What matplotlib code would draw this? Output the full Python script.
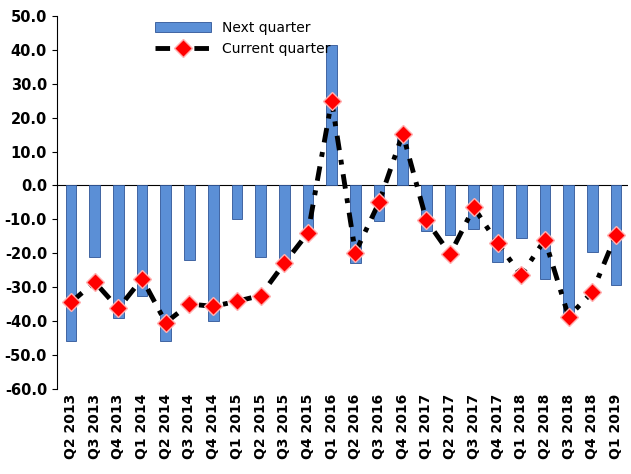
import matplotlib.pyplot as plt
import numpy as np

quarters = ['Q2 2013', 'Q3 2013', 'Q4 2013', 'Q1 2014', 'Q2 2014', 'Q3 2014', 'Q4 2014',
            'Q1 2015', 'Q2 2015', 'Q3 2015', 'Q4 2015', 'Q1 2016', 'Q2 2016', 'Q3 2016',
            'Q4 2016', 'Q1 2017', 'Q2 2017', 'Q3 2017', 'Q4 2017', 'Q1 2018', 'Q2 2018',
            'Q3 2018', 'Q4 2018', 'Q1 2019']
next_quarter = [-46, -21, -39, -32.5, -46, -22, -40, -10, -21, -24, -13, 41.5, -23, -10.5,
                15, -13.5, -14.5, -13, -22.5, -15.5, -27.5, -38.5, -19.5, -29.5]
current_quarter = [-34.5, -28.5, -36.3, -27.5, -40.5, -35, -35.7, -34.2, -32.5, -23, -14, 25,
                   -19.8, -5, 15.3, -10.3, -20.3, -6.5, -17, -26.5, -16, -38.7, -31.5, -14.5]

fig, ax = plt.subplots(figsize=(6.31, 4.74), dpi=100)
x = np.arange(len(quarters))
bars = ax.bar(x, next_quarter, width=0.45, color='#5b8fd6', edgecolor='#2f5597', linewidth=0.6,
              label='Next quarter', zorder=2)
line, = ax.plot(x, current_quarter, color='black', linestyle=(0, (3, 2, 1, 2)), linewidth=3.5,
                marker='D', markersize=9, markerfacecolor='red', markeredgecolor='#ffb0b0',
                markeredgewidth=1, label='Current quarter', zorder=3)
ax.axhline(0, color='black', linewidth=0.8, zorder=1)

ax.set_ylim(-60, 50)
ax.set_yticks(np.arange(-60, 51, 10))
ax.set_yticklabels([f'{v:.1f}' for v in np.arange(-60, 51, 10)], fontweight='bold', fontsize=10.5)
ax.set_xlim(-0.6, len(quarters) - 0.5)
ax.set_xticks(x)
ax.set_xticklabels(quarters, rotation=90, fontweight='bold', fontsize=10)
ax.tick_params(axis='x', length=0)
for s in ['top', 'right', 'bottom']:
    ax.spines[s].set_visible(False)

ax.legend([bars, line], ['Next quarter', 'Current quarter'], loc='upper left',
          bbox_to_anchor=(0.15, 1.02), frameon=False, fontsize=10, handlelength=4)
plt.subplots_adjust(left=0.09, right=0.995, top=0.966, bottom=0.18)
plt.savefig('out.png')
